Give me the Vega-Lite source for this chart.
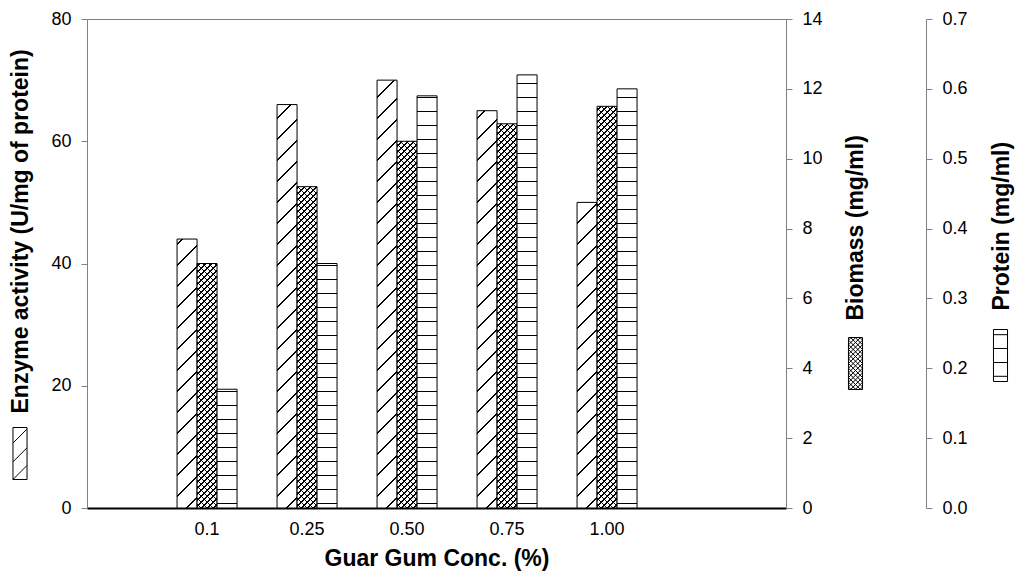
{
"$schema": "https://vega.github.io/schema/vega-lite/v6.json",
"width": 699, "height": 489,
"autosize": {"type": "none"},
"padding": {"left": 87, "top": 19, "right": 230, "bottom": 63},
"background": "white",
"params": [
{"name": "dstops", "value": [
{"offset":0.02,"color":"#0000"},{"offset":0.02,"color":"#000"},{"offset":0.023,"color":"#000"},{"offset":0.023,"color":"#0000"},
{"offset":0.062,"color":"#0000"},{"offset":0.062,"color":"#000"},{"offset":0.065,"color":"#000"},{"offset":0.065,"color":"#0000"},
{"offset":0.104,"color":"#0000"},{"offset":0.104,"color":"#000"},{"offset":0.107,"color":"#000"},{"offset":0.107,"color":"#0000"},
{"offset":0.146,"color":"#0000"},{"offset":0.146,"color":"#000"},{"offset":0.149,"color":"#000"},{"offset":0.149,"color":"#0000"},
{"offset":0.188,"color":"#0000"},{"offset":0.188,"color":"#000"},{"offset":0.191,"color":"#000"},{"offset":0.191,"color":"#0000"},
{"offset":0.23,"color":"#0000"},{"offset":0.23,"color":"#000"},{"offset":0.233,"color":"#000"},{"offset":0.233,"color":"#0000"},
{"offset":0.272,"color":"#0000"},{"offset":0.272,"color":"#000"},{"offset":0.275,"color":"#000"},{"offset":0.275,"color":"#0000"},
{"offset":0.314,"color":"#0000"},{"offset":0.314,"color":"#000"},{"offset":0.317,"color":"#000"},{"offset":0.317,"color":"#0000"},
{"offset":0.356,"color":"#0000"},{"offset":0.356,"color":"#000"},{"offset":0.359,"color":"#000"},{"offset":0.359,"color":"#0000"},
{"offset":0.398,"color":"#0000"},{"offset":0.398,"color":"#000"},{"offset":0.401,"color":"#000"},{"offset":0.401,"color":"#0000"},
{"offset":0.44,"color":"#0000"},{"offset":0.44,"color":"#000"},{"offset":0.443,"color":"#000"},{"offset":0.443,"color":"#0000"},
{"offset":0.482,"color":"#0000"},{"offset":0.482,"color":"#000"},{"offset":0.485,"color":"#000"},{"offset":0.485,"color":"#0000"},
{"offset":0.524,"color":"#0000"},{"offset":0.524,"color":"#000"},{"offset":0.527,"color":"#000"},{"offset":0.527,"color":"#0000"},
{"offset":0.566,"color":"#0000"},{"offset":0.566,"color":"#000"},{"offset":0.569,"color":"#000"},{"offset":0.569,"color":"#0000"},
{"offset":0.608,"color":"#0000"},{"offset":0.608,"color":"#000"},{"offset":0.611,"color":"#000"},{"offset":0.611,"color":"#0000"},
{"offset":0.65,"color":"#0000"},{"offset":0.65,"color":"#000"},{"offset":0.653,"color":"#000"},{"offset":0.653,"color":"#0000"},
{"offset":0.692,"color":"#0000"},{"offset":0.692,"color":"#000"},{"offset":0.695,"color":"#000"},{"offset":0.695,"color":"#0000"},
{"offset":0.734,"color":"#0000"},{"offset":0.734,"color":"#000"},{"offset":0.737,"color":"#000"},{"offset":0.737,"color":"#0000"},
{"offset":0.776,"color":"#0000"},{"offset":0.776,"color":"#000"},{"offset":0.779,"color":"#000"},{"offset":0.779,"color":"#0000"},
{"offset":0.818,"color":"#0000"},{"offset":0.818,"color":"#000"},{"offset":0.821,"color":"#000"},{"offset":0.821,"color":"#0000"},
{"offset":0.86,"color":"#0000"},{"offset":0.86,"color":"#000"},{"offset":0.863,"color":"#000"},{"offset":0.863,"color":"#0000"},
{"offset":0.902,"color":"#0000"},{"offset":0.902,"color":"#000"},{"offset":0.905,"color":"#000"},{"offset":0.905,"color":"#0000"}
]},
{"name": "xstops", "value": [
{"offset":0.006,"color":"#0000"},{"offset":0.006,"color":"#000"},{"offset":0.0085,"color":"#000"},{"offset":0.0085,"color":"#0000"},
{"offset":0.018,"color":"#0000"},{"offset":0.018,"color":"#000"},{"offset":0.0205,"color":"#000"},{"offset":0.0205,"color":"#0000"},
{"offset":0.03,"color":"#0000"},{"offset":0.03,"color":"#000"},{"offset":0.0325,"color":"#000"},{"offset":0.0325,"color":"#0000"},
{"offset":0.042,"color":"#0000"},{"offset":0.042,"color":"#000"},{"offset":0.0445,"color":"#000"},{"offset":0.0445,"color":"#0000"},
{"offset":0.054,"color":"#0000"},{"offset":0.054,"color":"#000"},{"offset":0.0565,"color":"#000"},{"offset":0.0565,"color":"#0000"},
{"offset":0.066,"color":"#0000"},{"offset":0.066,"color":"#000"},{"offset":0.0685,"color":"#000"},{"offset":0.0685,"color":"#0000"},
{"offset":0.078,"color":"#0000"},{"offset":0.078,"color":"#000"},{"offset":0.0805,"color":"#000"},{"offset":0.0805,"color":"#0000"},
{"offset":0.09,"color":"#0000"},{"offset":0.09,"color":"#000"},{"offset":0.0925,"color":"#000"},{"offset":0.0925,"color":"#0000"},
{"offset":0.102,"color":"#0000"},{"offset":0.102,"color":"#000"},{"offset":0.1045,"color":"#000"},{"offset":0.1045,"color":"#0000"},
{"offset":0.114,"color":"#0000"},{"offset":0.114,"color":"#000"},{"offset":0.1165,"color":"#000"},{"offset":0.1165,"color":"#0000"},
{"offset":0.126,"color":"#0000"},{"offset":0.126,"color":"#000"},{"offset":0.1285,"color":"#000"},{"offset":0.1285,"color":"#0000"},
{"offset":0.138,"color":"#0000"},{"offset":0.138,"color":"#000"},{"offset":0.1405,"color":"#000"},{"offset":0.1405,"color":"#0000"},
{"offset":0.15,"color":"#0000"},{"offset":0.15,"color":"#000"},{"offset":0.1525,"color":"#000"},{"offset":0.1525,"color":"#0000"},
{"offset":0.162,"color":"#0000"},{"offset":0.162,"color":"#000"},{"offset":0.1645,"color":"#000"},{"offset":0.1645,"color":"#0000"},
{"offset":0.174,"color":"#0000"},{"offset":0.174,"color":"#000"},{"offset":0.1765,"color":"#000"},{"offset":0.1765,"color":"#0000"},
{"offset":0.186,"color":"#0000"},{"offset":0.186,"color":"#000"},{"offset":0.1885,"color":"#000"},{"offset":0.1885,"color":"#0000"},
{"offset":0.198,"color":"#0000"},{"offset":0.198,"color":"#000"},{"offset":0.2005,"color":"#000"},{"offset":0.2005,"color":"#0000"},
{"offset":0.21,"color":"#0000"},{"offset":0.21,"color":"#000"},{"offset":0.2125,"color":"#000"},{"offset":0.2125,"color":"#0000"},
{"offset":0.222,"color":"#0000"},{"offset":0.222,"color":"#000"},{"offset":0.2245,"color":"#000"},{"offset":0.2245,"color":"#0000"},
{"offset":0.234,"color":"#0000"},{"offset":0.234,"color":"#000"},{"offset":0.2365,"color":"#000"},{"offset":0.2365,"color":"#0000"},
{"offset":0.246,"color":"#0000"},{"offset":0.246,"color":"#000"},{"offset":0.2485,"color":"#000"},{"offset":0.2485,"color":"#0000"},
{"offset":0.258,"color":"#0000"},{"offset":0.258,"color":"#000"},{"offset":0.2605,"color":"#000"},{"offset":0.2605,"color":"#0000"},
{"offset":0.27,"color":"#0000"},{"offset":0.27,"color":"#000"},{"offset":0.2725,"color":"#000"},{"offset":0.2725,"color":"#0000"},
{"offset":0.282,"color":"#0000"},{"offset":0.282,"color":"#000"},{"offset":0.2845,"color":"#000"},{"offset":0.2845,"color":"#0000"},
{"offset":0.294,"color":"#0000"},{"offset":0.294,"color":"#000"},{"offset":0.2965,"color":"#000"},{"offset":0.2965,"color":"#0000"},
{"offset":0.306,"color":"#0000"},{"offset":0.306,"color":"#000"},{"offset":0.3085,"color":"#000"},{"offset":0.3085,"color":"#0000"},
{"offset":0.318,"color":"#0000"},{"offset":0.318,"color":"#000"},{"offset":0.3205,"color":"#000"},{"offset":0.3205,"color":"#0000"},
{"offset":0.33,"color":"#0000"},{"offset":0.33,"color":"#000"},{"offset":0.3325,"color":"#000"},{"offset":0.3325,"color":"#0000"},
{"offset":0.342,"color":"#0000"},{"offset":0.342,"color":"#000"},{"offset":0.3445,"color":"#000"},{"offset":0.3445,"color":"#0000"},
{"offset":0.354,"color":"#0000"},{"offset":0.354,"color":"#000"},{"offset":0.3565,"color":"#000"},{"offset":0.3565,"color":"#0000"},
{"offset":0.366,"color":"#0000"},{"offset":0.366,"color":"#000"},{"offset":0.3685,"color":"#000"},{"offset":0.3685,"color":"#0000"},
{"offset":0.378,"color":"#0000"},{"offset":0.378,"color":"#000"},{"offset":0.3805,"color":"#000"},{"offset":0.3805,"color":"#0000"},
{"offset":0.39,"color":"#0000"},{"offset":0.39,"color":"#000"},{"offset":0.3925,"color":"#000"},{"offset":0.3925,"color":"#0000"},
{"offset":0.402,"color":"#0000"},{"offset":0.402,"color":"#000"},{"offset":0.4045,"color":"#000"},{"offset":0.4045,"color":"#0000"},
{"offset":0.414,"color":"#0000"},{"offset":0.414,"color":"#000"},{"offset":0.4165,"color":"#000"},{"offset":0.4165,"color":"#0000"},
{"offset":0.426,"color":"#0000"},{"offset":0.426,"color":"#000"},{"offset":0.4285,"color":"#000"},{"offset":0.4285,"color":"#0000"},
{"offset":0.438,"color":"#0000"},{"offset":0.438,"color":"#000"},{"offset":0.4405,"color":"#000"},{"offset":0.4405,"color":"#0000"},
{"offset":0.45,"color":"#0000"},{"offset":0.45,"color":"#000"},{"offset":0.4525,"color":"#000"},{"offset":0.4525,"color":"#0000"},
{"offset":0.462,"color":"#0000"},{"offset":0.462,"color":"#000"},{"offset":0.4645,"color":"#000"},{"offset":0.4645,"color":"#0000"},
{"offset":0.474,"color":"#0000"},{"offset":0.474,"color":"#000"},{"offset":0.4765,"color":"#000"},{"offset":0.4765,"color":"#0000"},
{"offset":0.486,"color":"#0000"},{"offset":0.486,"color":"#000"},{"offset":0.4885,"color":"#000"},{"offset":0.4885,"color":"#0000"},
{"offset":0.498,"color":"#0000"},{"offset":0.498,"color":"#000"},{"offset":0.5005,"color":"#000"},{"offset":0.5005,"color":"#0000"},
{"offset":0.51,"color":"#0000"},{"offset":0.51,"color":"#000"},{"offset":0.5125,"color":"#000"},{"offset":0.5125,"color":"#0000"},
{"offset":0.522,"color":"#0000"},{"offset":0.522,"color":"#000"},{"offset":0.5245,"color":"#000"},{"offset":0.5245,"color":"#0000"},
{"offset":0.534,"color":"#0000"},{"offset":0.534,"color":"#000"},{"offset":0.5365,"color":"#000"},{"offset":0.5365,"color":"#0000"},
{"offset":0.546,"color":"#0000"},{"offset":0.546,"color":"#000"},{"offset":0.5485,"color":"#000"},{"offset":0.5485,"color":"#0000"},
{"offset":0.558,"color":"#0000"},{"offset":0.558,"color":"#000"},{"offset":0.5605,"color":"#000"},{"offset":0.5605,"color":"#0000"},
{"offset":0.57,"color":"#0000"},{"offset":0.57,"color":"#000"},{"offset":0.5725,"color":"#000"},{"offset":0.5725,"color":"#0000"},
{"offset":0.582,"color":"#0000"},{"offset":0.582,"color":"#000"},{"offset":0.5845,"color":"#000"},{"offset":0.5845,"color":"#0000"},
{"offset":0.594,"color":"#0000"},{"offset":0.594,"color":"#000"},{"offset":0.5965,"color":"#000"},{"offset":0.5965,"color":"#0000"},
{"offset":0.606,"color":"#0000"},{"offset":0.606,"color":"#000"},{"offset":0.6085,"color":"#000"},{"offset":0.6085,"color":"#0000"},
{"offset":0.618,"color":"#0000"},{"offset":0.618,"color":"#000"},{"offset":0.6205,"color":"#000"},{"offset":0.6205,"color":"#0000"},
{"offset":0.63,"color":"#0000"},{"offset":0.63,"color":"#000"},{"offset":0.6325,"color":"#000"},{"offset":0.6325,"color":"#0000"},
{"offset":0.642,"color":"#0000"},{"offset":0.642,"color":"#000"},{"offset":0.6445,"color":"#000"},{"offset":0.6445,"color":"#0000"},
{"offset":0.654,"color":"#0000"},{"offset":0.654,"color":"#000"},{"offset":0.6565,"color":"#000"},{"offset":0.6565,"color":"#0000"},
{"offset":0.666,"color":"#0000"},{"offset":0.666,"color":"#000"},{"offset":0.6685,"color":"#000"},{"offset":0.6685,"color":"#0000"},
{"offset":0.678,"color":"#0000"},{"offset":0.678,"color":"#000"},{"offset":0.6805,"color":"#000"},{"offset":0.6805,"color":"#0000"},
{"offset":0.69,"color":"#0000"},{"offset":0.69,"color":"#000"},{"offset":0.6925,"color":"#000"},{"offset":0.6925,"color":"#0000"},
{"offset":0.702,"color":"#0000"},{"offset":0.702,"color":"#000"},{"offset":0.7045,"color":"#000"},{"offset":0.7045,"color":"#0000"},
{"offset":0.714,"color":"#0000"},{"offset":0.714,"color":"#000"},{"offset":0.7165,"color":"#000"},{"offset":0.7165,"color":"#0000"},
{"offset":0.726,"color":"#0000"},{"offset":0.726,"color":"#000"},{"offset":0.7285,"color":"#000"},{"offset":0.7285,"color":"#0000"},
{"offset":0.738,"color":"#0000"},{"offset":0.738,"color":"#000"},{"offset":0.7405,"color":"#000"},{"offset":0.7405,"color":"#0000"},
{"offset":0.75,"color":"#0000"},{"offset":0.75,"color":"#000"},{"offset":0.7525,"color":"#000"},{"offset":0.7525,"color":"#0000"},
{"offset":0.762,"color":"#0000"},{"offset":0.762,"color":"#000"},{"offset":0.7645,"color":"#000"},{"offset":0.7645,"color":"#0000"},
{"offset":0.774,"color":"#0000"},{"offset":0.774,"color":"#000"},{"offset":0.7765,"color":"#000"},{"offset":0.7765,"color":"#0000"},
{"offset":0.786,"color":"#0000"},{"offset":0.786,"color":"#000"},{"offset":0.7885,"color":"#000"},{"offset":0.7885,"color":"#0000"},
{"offset":0.798,"color":"#0000"},{"offset":0.798,"color":"#000"},{"offset":0.8005,"color":"#000"},{"offset":0.8005,"color":"#0000"},
{"offset":0.81,"color":"#0000"},{"offset":0.81,"color":"#000"},{"offset":0.8125,"color":"#000"},{"offset":0.8125,"color":"#0000"},
{"offset":0.822,"color":"#0000"},{"offset":0.822,"color":"#000"},{"offset":0.8245,"color":"#000"},{"offset":0.8245,"color":"#0000"},
{"offset":0.834,"color":"#0000"},{"offset":0.834,"color":"#000"},{"offset":0.8365,"color":"#000"},{"offset":0.8365,"color":"#0000"},
{"offset":0.846,"color":"#0000"},{"offset":0.846,"color":"#000"},{"offset":0.8485,"color":"#000"},{"offset":0.8485,"color":"#0000"}
]},
{"name": "hstops", "value": [
{"offset":0.0086,"color":"#0000"},{"offset":0.0086,"color":"#000"},{"offset":0.0107,"color":"#000"},{"offset":0.0107,"color":"#0000"},
{"offset":0.0366,"color":"#0000"},{"offset":0.0366,"color":"#000"},{"offset":0.0387,"color":"#000"},{"offset":0.0387,"color":"#0000"},
{"offset":0.0646,"color":"#0000"},{"offset":0.0646,"color":"#000"},{"offset":0.0667,"color":"#000"},{"offset":0.0667,"color":"#0000"},
{"offset":0.0926,"color":"#0000"},{"offset":0.0926,"color":"#000"},{"offset":0.0947,"color":"#000"},{"offset":0.0947,"color":"#0000"},
{"offset":0.1206,"color":"#0000"},{"offset":0.1206,"color":"#000"},{"offset":0.1227,"color":"#000"},{"offset":0.1227,"color":"#0000"},
{"offset":0.1486,"color":"#0000"},{"offset":0.1486,"color":"#000"},{"offset":0.1507,"color":"#000"},{"offset":0.1507,"color":"#0000"},
{"offset":0.1766,"color":"#0000"},{"offset":0.1766,"color":"#000"},{"offset":0.1787,"color":"#000"},{"offset":0.1787,"color":"#0000"},
{"offset":0.2046,"color":"#0000"},{"offset":0.2046,"color":"#000"},{"offset":0.2067,"color":"#000"},{"offset":0.2067,"color":"#0000"},
{"offset":0.2326,"color":"#0000"},{"offset":0.2326,"color":"#000"},{"offset":0.2347,"color":"#000"},{"offset":0.2347,"color":"#0000"},
{"offset":0.2606,"color":"#0000"},{"offset":0.2606,"color":"#000"},{"offset":0.2627,"color":"#000"},{"offset":0.2627,"color":"#0000"},
{"offset":0.2886,"color":"#0000"},{"offset":0.2886,"color":"#000"},{"offset":0.2907,"color":"#000"},{"offset":0.2907,"color":"#0000"},
{"offset":0.3166,"color":"#0000"},{"offset":0.3166,"color":"#000"},{"offset":0.3187,"color":"#000"},{"offset":0.3187,"color":"#0000"},
{"offset":0.3446,"color":"#0000"},{"offset":0.3446,"color":"#000"},{"offset":0.3467,"color":"#000"},{"offset":0.3467,"color":"#0000"},
{"offset":0.3726,"color":"#0000"},{"offset":0.3726,"color":"#000"},{"offset":0.3747,"color":"#000"},{"offset":0.3747,"color":"#0000"},
{"offset":0.4006,"color":"#0000"},{"offset":0.4006,"color":"#000"},{"offset":0.4027,"color":"#000"},{"offset":0.4027,"color":"#0000"},
{"offset":0.4286,"color":"#0000"},{"offset":0.4286,"color":"#000"},{"offset":0.4307,"color":"#000"},{"offset":0.4307,"color":"#0000"},
{"offset":0.4566,"color":"#0000"},{"offset":0.4566,"color":"#000"},{"offset":0.4587,"color":"#000"},{"offset":0.4587,"color":"#0000"},
{"offset":0.4846,"color":"#0000"},{"offset":0.4846,"color":"#000"},{"offset":0.4867,"color":"#000"},{"offset":0.4867,"color":"#0000"},
{"offset":0.5126,"color":"#0000"},{"offset":0.5126,"color":"#000"},{"offset":0.5147,"color":"#000"},{"offset":0.5147,"color":"#0000"},
{"offset":0.5406,"color":"#0000"},{"offset":0.5406,"color":"#000"},{"offset":0.5427,"color":"#000"},{"offset":0.5427,"color":"#0000"},
{"offset":0.5686,"color":"#0000"},{"offset":0.5686,"color":"#000"},{"offset":0.5707,"color":"#000"},{"offset":0.5707,"color":"#0000"},
{"offset":0.5966,"color":"#0000"},{"offset":0.5966,"color":"#000"},{"offset":0.5987,"color":"#000"},{"offset":0.5987,"color":"#0000"},
{"offset":0.6246,"color":"#0000"},{"offset":0.6246,"color":"#000"},{"offset":0.6267,"color":"#000"},{"offset":0.6267,"color":"#0000"},
{"offset":0.6526,"color":"#0000"},{"offset":0.6526,"color":"#000"},{"offset":0.6547,"color":"#000"},{"offset":0.6547,"color":"#0000"},
{"offset":0.6806,"color":"#0000"},{"offset":0.6806,"color":"#000"},{"offset":0.6827,"color":"#000"},{"offset":0.6827,"color":"#0000"},
{"offset":0.7086,"color":"#0000"},{"offset":0.7086,"color":"#000"},{"offset":0.7107,"color":"#000"},{"offset":0.7107,"color":"#0000"},
{"offset":0.7366,"color":"#0000"},{"offset":0.7366,"color":"#000"},{"offset":0.7387,"color":"#000"},{"offset":0.7387,"color":"#0000"},
{"offset":0.7646,"color":"#0000"},{"offset":0.7646,"color":"#000"},{"offset":0.7667,"color":"#000"},{"offset":0.7667,"color":"#0000"},
{"offset":0.7926,"color":"#0000"},{"offset":0.7926,"color":"#000"},{"offset":0.7947,"color":"#000"},{"offset":0.7947,"color":"#0000"},
{"offset":0.8206,"color":"#0000"},{"offset":0.8206,"color":"#000"},{"offset":0.8227,"color":"#000"},{"offset":0.8227,"color":"#0000"},
{"offset":0.8486,"color":"#0000"},{"offset":0.8486,"color":"#000"},{"offset":0.8507,"color":"#000"},{"offset":0.8507,"color":"#0000"}
]}
],
"data": {"values": [
{"conc":"0.1","series":"Enzyme","value":44},
{"conc":"0.25","series":"Enzyme","value":66},
{"conc":"0.50","series":"Enzyme","value":70},
{"conc":"0.75","series":"Enzyme","value":65},
{"conc":"1.00","series":"Enzyme","value":50},
{"conc":"0.1","series":"Biomass","value":7.0},
{"conc":"0.25","series":"Biomass","value":9.2},
{"conc":"0.50","series":"Biomass","value":10.5},
{"conc":"0.75","series":"Biomass","value":11.0},
{"conc":"1.00","series":"Biomass","value":11.5},
{"conc":"0.1","series":"Protein","value":0.17},
{"conc":"0.25","series":"Protein","value":0.35},
{"conc":"0.50","series":"Protein","value":0.59},
{"conc":"0.75","series":"Protein","value":0.62},
{"conc":"1.00","series":"Protein","value":0.60}
]},
"encoding": {
"x": {"field": "conc", "type": "nominal", "sort": null,
 "scale": {"type": "band", "domain": ["0.1","0.25","0.50","0.75","1.00"], "paddingInner": 0, "paddingOuter": 0.995, "align": 0.352},
 "axis": {"title": "Guar Gum Conc. (%)", "ticks": false, "tickSize": 0, "labelAngle": 0, "labelBaseline": "alphabetic", "labelPadding": 26, "domainColor": "black", "domainWidth": 2, "titleBaseline": "alphabetic", "titleY": 57}},
"xOffset": {"field": "series", "type": "nominal", "scale": {"domain": ["Enzyme","Biomass","Protein"], "paddingInner": 0, "paddingOuter": 1}}
},
"layer": [
{"transform": [{"filter": "datum.series === 'Enzyme'"}],
 "encoding": {"y": {"field": "value", "type": "quantitative", "scale": {"domain": [0, 80], "nice": false},
   "axis": {"orient": "left", "values": [0,20,40,60,80], "title": "Enzyme activity (U/mg of protein)", "titleAngle": 270, "titleAlign": "left", "titleBaseline": "alphabetic", "titleX": -60, "titleY": 394}}},
 "layer": [
  {"mark": {"type": "bar", "fill": "white", "stroke": "black", "strokeWidth": 1},
   "encoding": {"opacity": {"field": "series", "type": "nominal", "scale": {"range": [1, 1]},
     "legend": {"title": null, "orient": "none", "legendX": -93.5, "legendY": 408, "labelExpr": "''", "symbolSize": 2704, "symbolStrokeWidth": 1,
       "symbolType": "M-0.27,-1L0.27,-1L0.27,1L-0.27,1ZM-0.27,-0.4L0.27,-0.94M-0.27,0.32L0.27,-0.22M-0.27,1L0.27,0.46"}}}},
  {"mark": {"type": "bar", "fill": {"expr": "{gradient:'linear',x1:1,y1:1,x2:1-10000/(pow(datum.value*6.1125,2)+400),y2:1-500*datum.value*6.1125/(pow(datum.value*6.1125,2)+400),stops:dstops}"}}}
 ]},
{"transform": [{"filter": "datum.series === 'Biomass'"}],
 "encoding": {"y": {"field": "value", "type": "quantitative", "scale": {"domain": [0, 14], "nice": false},
   "axis": {"orient": "right", "values": [0,2,4,6,8,10,12,14], "title": "Biomass (mg/ml)", "titleAngle": 270, "titleAlign": "left", "titleBaseline": "alphabetic", "titleX": 76, "titleY": 301}}},
 "layer": [
  {"mark": {"type": "bar", "fill": "white", "stroke": "black", "strokeWidth": 1},
   "encoding": {"opacity": {"field": "series", "type": "nominal", "scale": {"range": [1, 1]},
     "legend": {"title": null, "orient": "none", "legendX": 742, "legendY": 318, "labelExpr": "''", "symbolSize": 2704, "symbolStrokeWidth": 1,
       "symbolType": "M-0.27,-1L0.27,-1L0.27,1L-0.27,1ZM-0.27,-0.9L-0.17,-1M-0.27,-0.72L0.01,-1M-0.27,-0.54L0.19,-1M-0.27,-0.36L0.27,-0.9M-0.27,-0.18L0.27,-0.72M-0.27,0L0.27,-0.54M-0.27,0.18L0.27,-0.36M-0.27,0.36L0.27,-0.18M-0.27,0.54L0.27,0M-0.27,0.72L0.27,0.18M-0.27,0.9L0.27,0.36M-0.19,1L0.27,0.54M-0.01,1L0.27,0.72M0.17,1L0.27,0.9M0.27,-0.9L0.17,-1M0.27,-0.72L-0.01,-1M0.27,-0.54L-0.19,-1M0.27,-0.36L-0.27,-0.9M0.27,-0.18L-0.27,-0.72M0.27,0L-0.27,-0.54M0.27,0.18L-0.27,-0.36M0.27,0.36L-0.27,-0.18M0.27,0.54L-0.27,0M0.27,0.72L-0.27,0.18M0.27,0.9L-0.27,0.36M0.19,1L-0.27,0.54M0.01,1L-0.27,0.72M-0.17,1L-0.27,0.9"}}}},
  {"mark": {"type": "bar", "fill": {"expr": "{gradient:'linear',x1:1,y1:1,x2:1-10000/(pow(datum.value*34.9286,2)+400),y2:1-500*datum.value*34.9286/(pow(datum.value*34.9286,2)+400),stops:xstops}"}}},
  {"mark": {"type": "bar", "fill": {"expr": "{gradient:'linear',x1:0,y1:1,x2:10000/(pow(datum.value*34.9286,2)+400),y2:1-500*datum.value*34.9286/(pow(datum.value*34.9286,2)+400),stops:xstops}"}}}
 ]},
{"transform": [{"filter": "datum.series === 'Protein'"}],
 "encoding": {"y": {"field": "value", "type": "quantitative", "scale": {"domain": [0, 0.7], "nice": false},
   "axis": {"orient": "right", "offset": 140, "values": [0,0.1,0.2,0.3,0.4,0.5,0.6,0.7], "format": ".1f", "title": "Protein (mg/ml)", "titleAngle": 270, "titleAlign": "left", "titleBaseline": "alphabetic", "titleX": 82, "titleY": 291}}},
 "layer": [
  {"mark": {"type": "bar", "fill": "white", "stroke": "black", "strokeWidth": 1},
   "encoding": {"opacity": {"field": "series", "type": "nominal", "scale": {"range": [1, 1]},
     "legend": {"title": null, "orient": "none", "legendX": 887, "legendY": 310, "labelExpr": "''", "symbolSize": 2704, "symbolStrokeWidth": 1,
       "symbolType": "M-0.27,-1L0.27,-1L0.27,1L-0.27,1ZM-0.27,-0.8L0.27,-0.8M-0.27,-0.27L0.27,-0.27M-0.27,0.27L0.27,0.27M-0.27,0.8L0.27,0.8"}}}},
  {"mark": {"type": "bar", "fill": {"expr": "{gradient:'linear',x1:0,y1:1,x2:0.000001,y2:1-500/(datum.value*698.571),stops:hstops}"}}}
 ]}
],
"resolve": {"scale": {"y": "independent", "opacity": "independent"}, "axis": {"y": "independent"}, "legend": {"opacity": "independent"}},
"config": {
 "font": "Liberation Sans",
 "view": {"stroke": "#808080", "strokeWidth": 1},
 "axis": {"labelFont": "Liberation Sans", "labelFontSize": 18, "labelColor": "black", "titleFont": "Liberation Sans", "titleFontSize": 23, "titleFontWeight": "bold", "titleColor": "black", "domainColor": "#808080", "tickColor": "#808080", "tickSize": 6, "labelPadding": 10, "grid": false}
}
}
